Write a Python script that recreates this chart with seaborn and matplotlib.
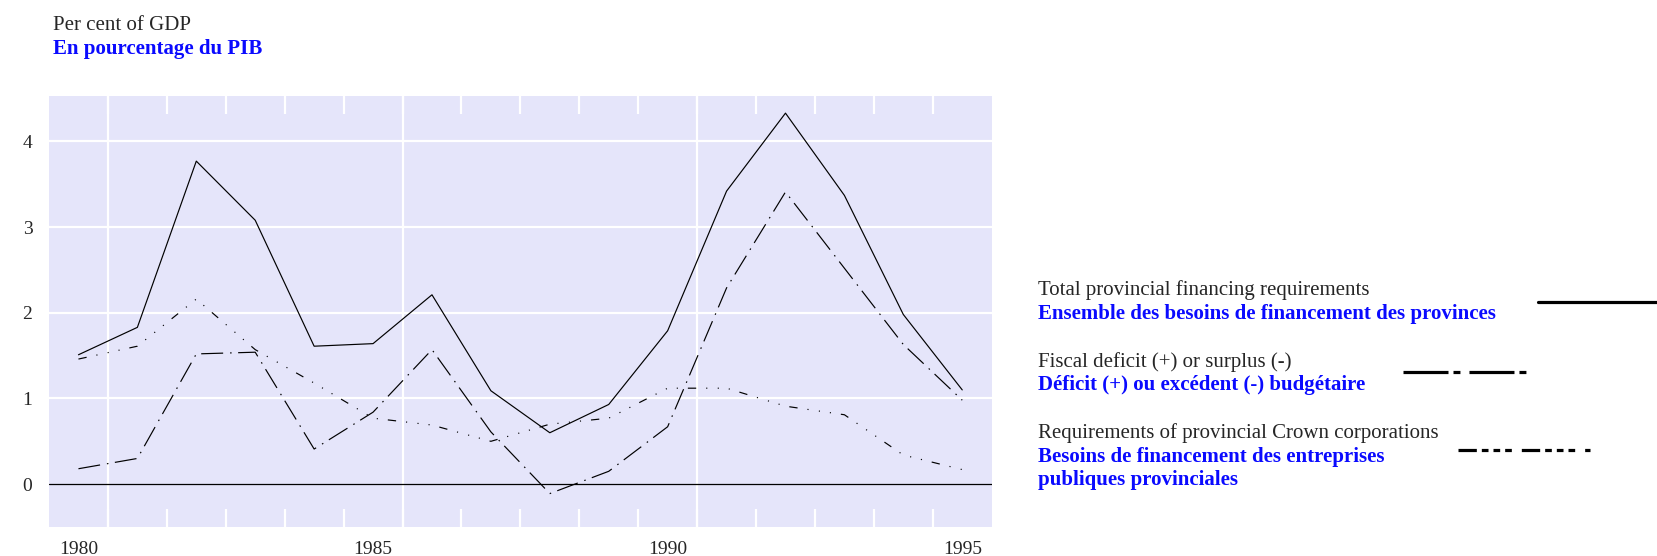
import pandas as pd
import matplotlib.pyplot as plt
import seaborn as sns
from matplotlib.lines import Line2D

# --------------------------
# Data (per cent of GDP)
# --------------------------
years = list(range(1980, 1996))
total_req = [1.51, 1.83, 3.77, 3.08, 1.61, 1.64, 2.21, 1.09,
             0.60, 0.93, 1.79, 3.42, 4.33, 3.37, 1.98, 1.10]
fiscal_def = [0.18, 0.30, 1.52, 1.54, 0.41, 0.84, 1.57, 0.61,
              -0.11, 0.15, 0.67, 2.29, 3.41, 2.52, 1.63, 0.98]
crown_req = [1.46, 1.61, 2.16, 1.57, 1.18, 0.77, 0.69, 0.50,
             0.70, 0.77, 1.12, 1.12, 0.91, 0.81, 0.34, 0.17]

series_names = ["total", "fiscal", "crown"]
labels_en = ["Total provincial financing requirements",
             "Fiscal deficit (+) or surplus (-)",
             "Requirements of provincial Crown corporations"]
labels_fr = [["Ensemble des besoins de financement des provinces"],
             ["Déficit (+) ou excédent (-) budgétaire"],
             ["Besoins de financement des entreprises",
              "publiques provinciales"]]
xtick_years = [1980, 1985, 1990, 1995]
ytick_vals = [0, 1, 2, 3, 4]

BLUE = "#0a0aff"
BG = "#e5e5fa"

sns.set_style("white")
plt.rcParams["font.family"] = ["Liberation Serif", "DejaVu Serif"]
plt.rcParams["lines.scale_dashes"] = False

df = pd.DataFrame({
    "year": years * 3,
    "value": total_req + fiscal_def + crown_req,
    "series": [s for s in series_names for _ in years],
})

# dash patterns in points
plot_dashes = {
    "total": "",
    "fiscal": (15.8, 5.0, 1.1, 4.7),
    "crown": (6.0, 7.2, 0.8, 7.5, 0.8, 7.2, 0.8, 7.2),
}
key_dashes = {
    "total": None,
    "fiscal": (32.4, 3.6, 5.0, 6.5),
    "crown": (13.2, 3.6, 4.8, 3.6, 4.8, 3.6, 4.8, 7.2),
}

fig = plt.figure(figsize=(16.57, 5.56), dpi=100)
W, H = 1657, 556
ax = fig.add_axes([49 / W, 1 - 527 / H, (991.7 - 49) / W, (527 - 96) / H])
ax.set_facecolor(BG)
for sp in ax.spines.values():
    sp.set_visible(False)

# grid
for v in ytick_vals[1:]:
    ax.axhline(v, color="white", lw=1.6, zorder=0.5)
for yr in xtick_years[:-1]:
    ax.axvline(yr + 0.5, color="white", lw=1.6, zorder=0.5)
ax.axhline(0, color="black", lw=0.9, zorder=1)

sns.lineplot(data=df, x="year", y="value", style="series",
             dashes=plot_dashes, color="black", lw=0.85,
             legend=False, ax=ax, zorder=3)

ax.set_xlim(1979.5, 1995.5)
ax.set_ylim(-0.5, 4.53)
ax.set_xticks(xtick_years)
ax.set_xticklabels([str(y) for y in xtick_years])
ax.set_xticks([y + 0.5 for y in years[:-1]], minor=True)
ax.set_yticks(ytick_vals)
ax.tick_params(axis="x", which="major", length=0, pad=10, labelsize=14)
ax.tick_params(axis="x", which="minor", direction="in", length=13,
               width=1.6, color="white", top=True, bottom=True)
ax.tick_params(axis="y", which="major", length=0, pad=12, labelsize=14)
ax.set_xlabel("")
ax.set_ylabel("")

# titles
fig.text(53 / W, 1 - 30 / H, "Per cent of GDP", fontsize=15,
         va="baseline", ha="left")
fig.text(53 / W, 1 - 54 / H, "En pourcentage du PIB", fontsize=15,
         fontweight="bold", color=BLUE, va="baseline", ha="left")

# custom legend
text_base = [295, 366.7, 438.3]
line_step = 23.5
key_pos = [(1538, 1657, 302), (1403, 1527, 372), (1458, 1590, 450)]
for name, en, fr, yb, (x0, x1, yk) in zip(series_names, labels_en, labels_fr,
                                          text_base, key_pos):
    fig.text(1038 / W, 1 - yb / H, en, fontsize=15, va="baseline", ha="left")
    for i, line in enumerate(fr):
        fig.text(1038 / W, 1 - (yb + line_step * (i + 1)) / H, line,
                 fontsize=15, fontweight="bold", color=BLUE,
                 va="baseline", ha="left")
    ln = Line2D([x0 / W, x1 / W], [1 - yk / H, 1 - yk / H],
                transform=fig.transFigure, color="black", lw=2.3)
    if key_dashes[name] is not None:
        ln.set_dashes(key_dashes[name])
    fig.add_artist(ln)

fig.savefig("out.png", dpi=100)
plt.close()
